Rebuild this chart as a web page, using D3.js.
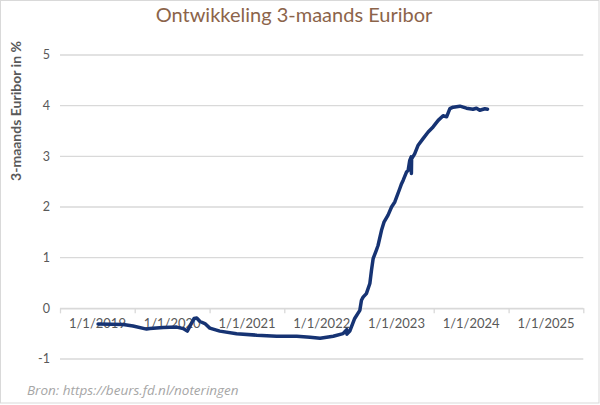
<!DOCTYPE html>
<html>
<head>
<meta charset="utf-8">
<script src="https://cdn.jsdelivr.net/npm/d3@7"></script>
<style>
  body { margin: 0; background: #fff; }
  text { font-family: Lato, "Open Sans", sans-serif; }
</style>
</head>
<body>
<div id="chart"></div>
<script>
// 3-month Euribor
const dates = [
  "2019-01-04", "2019-05-07", "2019-06-24", "2019-08-29", "2019-09-14", "2019-11-18",
  "2020-01-23", "2020-02-24", "2020-03-15", "2020-03-28", "2020-04-17", "2020-04-30",
  "2020-05-16", "2020-06-09", "2020-07-03", "2020-08-21", "2020-11-11",
  "2021-02-18", "2021-05-26", "2021-09-01", "2021-11-05", "2021-12-24",
  "2022-02-26", "2022-04-15", "2022-05-03", "2022-05-04", "2022-05-18", "2022-06-11",
  "2022-07-06", "2022-07-14", "2022-07-22", "2022-08-07", "2022-08-24", "2022-09-01",
  "2022-09-09", "2022-09-25", "2022-10-03", "2022-10-20", "2022-11-01", "2022-11-21",
  "2022-12-08", "2022-12-24", "2023-01-17", "2023-01-26", "2023-02-03", "2023-02-19",
  "2023-02-27", "2023-03-07", "2023-03-14", "2023-03-15", "2023-03-16", "2023-03-31",
  "2023-04-17", "2023-05-11", "2023-06-05", "2023-06-29", "2023-07-24", "2023-08-17",
  "2023-09-03", "2023-09-19", "2023-10-05", "2023-11-07", "2023-12-09",
  "2024-01-10", "2024-01-27", "2024-02-12", "2024-03-08", "2024-03-21"
];
const rates = [
  -0.31, -0.32, -0.35, -0.41, -0.40, -0.38,
  -0.37, -0.40, -0.45, -0.35, -0.20, -0.19,
  -0.26, -0.30, -0.39, -0.45, -0.50,
  -0.53, -0.55, -0.55, -0.57, -0.59,
  -0.55, -0.50, -0.42, -0.51, -0.45, -0.20,
  -0.04, 0.16, 0.22, 0.29, 0.49, 0.75,
  0.98, 1.15, 1.24, 1.54, 1.70, 1.84,
  2.00, 2.10, 2.36, 2.46, 2.53, 2.69,
  2.72, 2.92, 2.99, 2.66, 2.95, 3.05,
  3.22, 3.35, 3.48, 3.58, 3.71, 3.80,
  3.78, 3.94, 3.97, 3.99, 3.95,
  3.93, 3.95, 3.91, 3.94, 3.93
];
const xLabels = ["1/1/2019", "1/1/2020", "1/1/2021", "1/1/2022", "1/1/2023", "1/1/2024", "1/1/2025"];
const yTicks = [-1, 0, 1, 2, 3, 4, 5];

const width = 600;
const height = 405;
const grid = "#d9d9d9";
const textGrey = "#595959";

const parseDate = d3.timeParse("%Y-%m-%d");
const parseLabel = d3.timeParse("%-m/%-d/%Y");
const data = dates.map((d, i) => ({ date: parseDate(d), v: rates[i] }));

const x = d3.scaleTime()
    .domain([new Date(2018, 6, 2), new Date(2025, 6, 2)])
    .range([60, 583.3]);
const y = d3.scaleLinear()
    .domain([-1, 5])
    .range([359, 55]);

const svg = d3.select("#chart")
    .append("svg")
    .attr("width", width)
    .attr("height", height);

// chart border
svg.append("rect")
    .attr("x", 0.5).attr("y", 0.5)
    .attr("width", width - 1.5).attr("height", height - 2.5)
    .attr("fill", "#fff")
    .attr("stroke", grid);

// title
svg.append("text")
    .attr("x", 294).attr("y", 22)
    .attr("text-anchor", "middle")
    .attr("font-size", 20)
    .attr("fill", "#8c644a")
    .text("Ontwikkeling 3-maands Euribor");

// horizontal gridlines
svg.selectAll(".grid")
    .data(yTicks)
    .enter()
    .append("line")
    .attr("class", "grid")
    .attr("x1", x.range()[0]).attr("x2", x.range()[1])
    .attr("y1", d => y(d)).attr("y2", d => y(d))
    .attr("stroke", grid)
    .attr("stroke-width", 1.3);

// y tick labels
svg.selectAll(".ylab")
    .data(yTicks)
    .enter()
    .append("text")
    .attr("class", "ylab")
    .attr("x", 50)
    .attr("y", d => y(d))
    .attr("dy", "0.35em")
    .attr("text-anchor", "end")
    .attr("font-size", 12.5)
    .attr("fill", textGrey)
    .text(d => d);

// y axis title
svg.append("text")
    .attr("transform", "translate(21,111) rotate(-90)")
    .attr("text-anchor", "middle")
    .attr("font-size", 14)
    .attr("font-weight", "bold")
    .attr("fill", textGrey)
    .text("3-maands Euribor in %");

// x axis along the zero line: tick marks halfway between the labels
const boundaries = d3.range(2018, 2026).map(yr => new Date(yr, 6, 2));
const xAxis = svg.append("g")
    .attr("transform", `translate(0,${y(0)})`)
    .call(d3.axisBottom(x).tickValues(boundaries).tickFormat("").tickSize(5).tickSizeOuter(0));
xAxis.select(".domain").attr("stroke", grid).attr("stroke-width", 1.3);
xAxis.selectAll(".tick line").attr("stroke", grid).attr("stroke-width", 1.3);

svg.selectAll(".xlab")
    .data(xLabels)
    .enter()
    .append("text")
    .attr("class", "xlab")
    .attr("x", d => x(parseLabel(d)))
    .attr("y", y(0) + 20)
    .attr("text-anchor", "middle")
    .attr("font-size", 13)
    .attr("fill", textGrey)
    .text(d => d);

// the series
const line = d3.line()
    .x(d => x(d.date))
    .y(d => y(d.v));

svg.append("path")
    .datum(data)
    .attr("fill", "none")
    .attr("stroke", "#163373")
    .attr("stroke-width", 3.5)
    .attr("stroke-linejoin", "round")
    .attr("stroke-linecap", "round")
    .attr("d", line);

// source
svg.append("text")
    .attr("x", 27).attr("y", 395)
    .style("font-family", "'Open Sans', sans-serif")
    .attr("font-size", 13.5)
    .attr("font-style", "italic")
    .attr("fill", "#a6a6a6")
    .text("Bron: https://beurs.fd.nl/noteringen");
</script>
</body>
</html>
